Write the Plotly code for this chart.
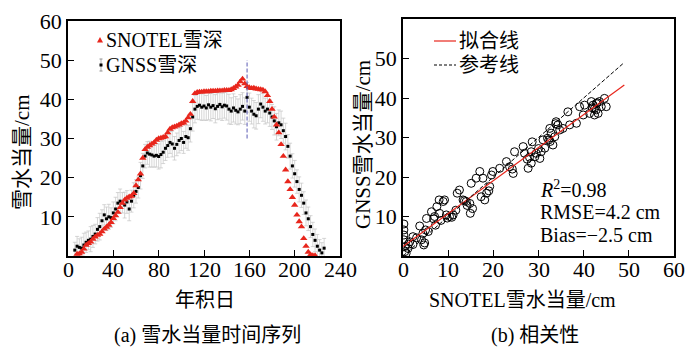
import plotly.graph_objects as go

# ---------------- data: (a) time series ----------------
snotel_days = list(range(8, 220, 2))
snotel_swe = [0.5, 0.6, 1.0, 1.8, 2.8, 3.2, 3.6, 4.3, 4.9, 5.3,
              5.6, 6.2, 6.9, 7.4, 7.9, 8.6, 9.6, 10.3, 11.2, 12.4,
              13.5, 14.3, 14.8, 15.1, 15.3, 16.0, 18.0, 19.5, 21.0, 25.0,
              27.2, 27.8, 28.2, 28.6, 29.0, 29.6, 30.0, 30.1, 30.3, 30.5,
              31.5, 32.4, 32.8, 33.0, 33.2, 33.5, 33.8, 34.0, 34.5, 35.3,
              36.2, 39.5, 41.5, 41.8, 41.9, 41.9, 42.0, 42.0, 42.0, 42.1,
              42.1, 42.1, 42.2, 42.2, 42.2, 42.3, 42.3, 42.3, 42.5, 42.8,
              43.2, 43.6, 44.5, 45.2, 44.0, 43.3, 43.0, 42.8, 42.9, 42.7,
              42.6, 42.5, 42.4, 42.0, 41.0, 39.5, 37.5, 35.5, 33.5, 31.5,
              28.5, 25.5, 22.0, 19.0, 17.0, 15.0, 13.0, 10.5, 8.8, 7.5,
              4.5, 2.5, 1.0, 0.3, 0.1, 0.1]

gnss_days = list(range(6, 228, 2))
gnss_swe = [1.5, 2.5, 2.2, 2.0, 2.8, 3.5, 4.0, 4.3, 5.0, 5.6,
            6.8, 7.5, 9.0, 10.5, 9.5, 10.0, 9.8, 11.0, 12.0, 13.5,
            14.0, 13.6, 13.0, 13.8, 12.0, 14.0, 15.5, 16.5, 17.5, 20.5,
            23.0, 25.5, 26.3, 26.0, 25.8, 25.5, 25.7, 25.4, 25.9, 26.5,
            27.5, 28.2, 29.0, 28.6, 27.5, 28.5, 29.5, 30.0, 29.0, 30.5,
            30.2, 32.5, 35.5, 37.5, 38.2, 38.5, 38.0, 38.3, 37.8, 38.6,
            38.0, 38.4, 37.6, 38.2, 38.7, 38.1, 38.5, 38.3, 37.5, 37.0,
            37.8, 37.2, 36.8, 37.5, 38.2, 37.0, 40.5, 38.0, 37.0, 36.2,
            35.8, 37.5, 38.8, 38.0, 37.0, 37.5, 36.5, 35.5, 34.5, 33.0,
            34.0, 33.5, 32.0, 30.5, 28.0, 25.5, 23.0, 21.0, 19.0, 17.0,
            15.5, 13.5, 11.0, 9.5, 7.5, 5.5, 4.0, 2.5, 1.5, 0.8,
            2.0]
gnss_err = [2.0, 2.5, 2.2, 2.8, 3.0, 2.6, 2.4, 3.2, 2.8, 2.5,
            3.0, 3.4, 2.8, 2.6, 3.0, 3.2, 2.5, 2.8, 3.0, 2.7,
            3.1, 2.6, 3.3, 2.9, 3.0, 2.8, 3.2, 3.0, 2.7, 3.4,
            3.2, 3.0, 2.9, 3.3, 3.1, 2.8, 3.0, 3.2, 3.4, 2.9,
            3.1, 3.0, 2.8, 3.3, 3.0, 2.9, 3.2, 3.1, 2.8, 3.0,
            3.2, 3.4, 3.6, 3.5, 3.3, 3.7, 3.4, 3.6, 3.2, 3.8,
            3.5, 3.3, 3.6, 3.4, 3.7, 3.5, 3.3, 3.6, 3.8, 3.4,
            3.6, 3.5, 3.3, 3.7, 3.5, 3.4, 3.8, 3.6, 3.3, 3.5,
            3.4, 3.7, 3.5, 3.6, 3.3, 3.5, 3.4, 3.2, 3.6, 3.4,
            3.3, 3.5, 3.2, 3.4, 3.0, 3.3, 3.1, 3.4, 3.0, 3.2,
            3.1, 2.9, 3.3, 3.0, 2.8, 3.1, 2.9, 3.0, 2.7, 2.6,
            2.5]
peak_day = 158
peak_line_range = [30, 50]
x_ticks_a = [0, 40, 80, 120, 160, 200, 240]
y_ticks = [10, 20, 30, 40, 50, 60]

# ---------------- data: (b) scatter ----------------
scatter_snotel = [0.2, 0.2, 0.2, 0.2, 0.4, 0.4, 0.7, 1.1, 1.5, 2.2,
                  3.7, 4.1, 4.4, 4.6, 5.0, 5.2, 6.3, 7.0, 7.2, 7.5,
                  8.0, 8.1, 8.9, 9.2, 9.6, 10.3, 11.1, 11.7, 12.0, 12.5,
                  13.3, 14.0, 14.8, 14.9, 15.1, 16.2, 17.0, 17.3, 17.7, 18.1,
                  18.5, 19.2, 19.6, 19.9, 21.4, 22.9, 23.6, 24.4, 24.7, 26.6,
                  26.9, 27.7, 28.4, 28.6, 28.4, 29.2, 29.5, 30.3, 30.6, 31.0,
                  31.4, 32.3, 32.5, 32.8, 33.2, 33.6, 33.9, 34.3, 34.7, 35.4,
                  36.5, 36.9, 38.4, 39.1, 39.9, 40.2, 41.3, 41.7, 42.1, 42.4,
                  42.8, 43.2, 43.5, 43.9, 44.6, 45.0, 42.8, 42.4, 2.2, 4.8,
                  6.8, 3.0, 1.2, 9.8, 14.2, 27.5, 32.0, 33.8, 41.9, 43.0,
                  5.6, 8.4, 10.8, 13.6, 15.4, 19.0, 24.2, 28.0, 30.0, 32.6]
scatter_gnss = [8.1, 6.6, 5.3, 4.1, 2.4, 1.1, 0.7, 1.9, 3.6, 4.9,
                7.6, 4.1, 5.7, 2.8, 6.6, 9.5, 11.2, 10.0, 7.8, 12.5,
                14.2, 10.8, 13.8, 14.2, 10.4, 10.0, 10.4, 11.6, 15.9, 16.7,
                14.2, 13.8, 13.3, 10.8, 18.4, 19.7, 21.4, 15.0, 19.7, 14.2,
                15.9, 17.6, 20.5, 21.4, 22.2, 23.9, 22.6, 20.9, 26.4, 27.7,
                26.0, 22.2, 23.5, 28.9, 26.4, 25.1, 26.0, 24.7, 26.4, 29.4,
                27.3, 29.4, 32.3, 31.1, 28.1, 30.2, 34.0, 33.2, 31.9, 32.3,
                36.5, 33.2, 33.6, 37.8, 35.7, 38.2, 36.1, 39.1, 38.2, 35.7,
                37.0, 36.1, 39.1, 37.8, 39.9, 37.8, 38.6, 37.3, 2.9, 3.3,
                9.4, 4.6, 3.0, 9.6, 12.8, 24.5, 29.8, 33.5, 37.5, 38.8,
                6.2, 9.0, 9.8, 14.0, 12.0, 16.5, 22.0, 25.0, 27.2, 29.0]
fit_slope = 0.835
fit_intercept = 2.4
line_x_range = [0, 49]
x_ticks_b = [0, 10, 20, 30, 40, 50, 60]
stats_text = ["<i>R</i><sup>2</sup>=0.98", "RMSE=4.2 cm", "Bias=\u22122.5 cm"]
stats_y = [17.0, 11.2, 5.4]
stats_x = 29.8

# ---------------- layout helpers (page has an 8px body margin) ----------------
W, H, OFF = 684, 342, 8


def px(X):
    return (X - OFF) / W


def py(Y):
    return 1 - (Y - OFF) / H


FONT = "Liberation Serif, Noto Sans CJK SC, serif"
RED = "#e8261c"
fig = go.Figure()

fig.add_trace(go.Scatter(
    x=gnss_days, y=gnss_swe, mode="markers", name="GNSS雪深", showlegend=False,
    marker=dict(symbol="square", size=3, color="black"),
    error_y=dict(type="data", array=gnss_err, color="#c4c4c4", thickness=0.7, width=2),
    xaxis="x", yaxis="y"))
fig.add_trace(go.Scatter(
    x=snotel_days, y=snotel_swe, mode="markers", name="SNOTEL雪深", showlegend=False,
    marker=dict(symbol="triangle-up", size=6.5, color=RED),
    xaxis="x", yaxis="y"))

fig.add_trace(go.Scatter(
    x=scatter_snotel, y=scatter_gnss, mode="markers", showlegend=False,
    marker=dict(symbol="circle-open", size=8, color="black", line=dict(width=1)),
    xaxis="x2", yaxis="y2"))
fit_y = [fit_intercept + fit_slope * v for v in line_x_range]
fig.add_trace(go.Scatter(
    x=line_x_range, y=fit_y, mode="lines", name="拟合线", showlegend=False,
    line=dict(color=RED, width=1.2), xaxis="x2", yaxis="y2"))
fig.add_trace(go.Scatter(
    x=line_x_range, y=line_x_range, mode="lines", name="参考线", showlegend=False,
    line=dict(color="black", width=1, dash="4px,2px"), xaxis="x2", yaxis="y2"))

fig.add_shape(type="line", xref="x", yref="y", x0=peak_day, x1=peak_day,
              y0=peak_line_range[0], y1=peak_line_range[1],
              line=dict(color="#5a5ab4", width=1, dash="4px,2px"))

# ---- hand-drawn legends ----
shapes = []
tx, ty = 100, 40
shapes.append(dict(type="path", xref="paper", yref="paper",
                   path=f"M {px(tx-3)} {py(ty+2.5)} L {px(tx+3)} {py(ty+2.5)} L {px(tx)} {py(ty-3)} Z",
                   fillcolor=RED, line=dict(width=0)))
gx, gy = 101, 65
shapes.append(dict(type="line", xref="paper", yref="paper", x0=px(gx), x1=px(gx),
                   y0=py(gy - 6), y1=py(gy + 6), line=dict(color="#b0b0b0", width=1)))
for dy in (-6, 6):
    shapes.append(dict(type="line", xref="paper", yref="paper", x0=px(gx - 1.5), x1=px(gx + 1.5),
                       y0=py(gy + dy), y1=py(gy + dy), line=dict(color="#909090", width=1)))
shapes.append(dict(type="rect", xref="paper", yref="paper", x0=px(gx - 1.5), x1=px(gx + 1.5),
                   y0=py(gy - 1.5), y1=py(gy + 1.5), fillcolor="black", line=dict(width=0)))
shapes.append(dict(type="line", xref="paper", yref="paper", x0=px(434), x1=px(456),
                   y0=py(41), y1=py(41), line=dict(color=RED, width=1.2)))
shapes.append(dict(type="line", xref="paper", yref="paper", x0=px(434), x1=px(456),
                   y0=py(65), y1=py(65), line=dict(color="black", width=1, dash="3px,2px")))
for s in shapes:
    fig.add_shape(**s)

ax_common = dict(showline=True, linecolor="black", linewidth=1.5, mirror=True,
                 ticks="inside", ticklen=6, tickwidth=1.2, tickcolor="black",
                 showgrid=False, zeroline=False, automargin=False,
                 tickfont=dict(family=FONT, size=22, color="black"))

fig.update_layout(
    template="none",
    width=W, height=H, margin=dict(l=0, r=0, t=0, b=0),
    paper_bgcolor="white", plot_bgcolor="white", showlegend=False,
    font=dict(family=FONT, size=20, color="black"),
    xaxis=dict(domain=[px(68), px(340)], range=[0, 240], tickvals=x_ticks_a,
               showticklabels=False, anchor="y", **ax_common),
    yaxis=dict(domain=[py(256), py(21)], range=[0, 60], tickvals=y_ticks,
               anchor="x", **ax_common),
    xaxis2=dict(domain=[px(403), px(674)], range=[0, 60], tickvals=x_ticks_b,
                showticklabels=False, anchor="y2", **ax_common),
    yaxis2=dict(domain=[py(256), py(19)], range=[0, 60], tickvals=y_ticks,
                anchor="x2", **ax_common),
)


def txt(text, X, Y, size=20, angle=0, xanchor="center"):
    return dict(text=text, xref="paper", yref="paper", x=px(X), y=py(Y), textangle=angle,
                xanchor=xanchor, yanchor="middle", showarrow=False, font=dict(size=size))


ann = [
    txt("SNOTEL雪深", 104, 40, xanchor="left"),
    txt("GNSS雪深", 104, 65, xanchor="left"),
    txt("拟合线", 457, 41, xanchor="left"),
    txt("参考线", 457, 65, xanchor="left"),
    txt("雪水当量/cm", 22, 152, size=21, angle=-90),
    txt("GNSS雪水当量/cm", 363, 145, size=21, angle=-90),
    txt("年积日", 205, 300),
    txt("SNOTEL雪水当量/cm", 522, 300),
    txt("(a) 雪水当量时间序列", 207, 335),
    txt("(b) 相关性", 535, 335),
]
# x tick labels placed just under the axes
for v in x_ticks_a:
    ann.append(dict(text=str(v), xref="x", yref="paper", x=v, y=py(269), xanchor="center",
                    yanchor="middle", showarrow=False, font=dict(size=22)))
for v in x_ticks_b:
    ann.append(dict(text=str(v), xref="x2", yref="paper", x=v, y=py(269), xanchor="center",
                    yanchor="middle", showarrow=False, font=dict(size=22)))
for t, yy in zip(stats_text, stats_y):
    ann.append(dict(text=t, xref="x2", yref="y2", x=stats_x, y=yy, xanchor="left", yanchor="middle",
                    showarrow=False, font=dict(size=20)))
fig.update_layout(annotations=ann)

fig.write_html("out.html")
